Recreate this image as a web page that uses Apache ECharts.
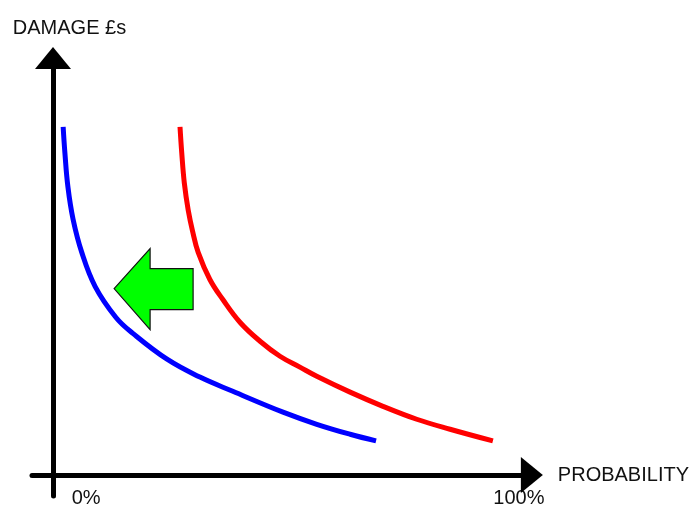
<!DOCTYPE html>
<html>
<head>
<meta charset="utf-8">
<script src="https://cdn.jsdelivr.net/npm/echarts@6/dist/echarts.min.js"></script>
<style>
  html, body { margin: 0; padding: 0; background: #fff; }
  #chart { width: 692px; height: 508px; }
</style>
</head>
<body>
<div id="chart"></div>
<script>
// curve points: [probability %, damage]
var beforeCurve = [
  [21.7, 83.5], [22.1, 77.3], [22.7, 70.0], [23.6, 63.5], [24.6, 58.5],
  [25.9, 53.4], [28.6, 46.9], [31.6, 42.1], [35.6, 36.6], [40.2, 32.1],
  [44.8, 28.5], [49.4, 25.9], [53.3, 23.7], [61.0, 19.9], [68.6, 16.5],
  [76.4, 13.4], [84.1, 11.0], [94.0, 8.2]
];
var afterCurve = [
  [-5.3, 83.5], [-4.9, 77.3], [-4.2, 69.1], [-3.0, 61.3], [-1.0, 53.4],
  [2.1, 45.2], [6.9, 37.8], [10.8, 34.0], [18.7, 27.8], [26.3, 23.5],
  [33.9, 20.1], [45.5, 15.1], [53.3, 12.2], [61.0, 9.8], [67.0, 8.2]
];
var xTickValues = [0, 100];
var xName = 'PROBABILITY';
var yName = 'DAMAGE £s';

// where the green "shift" arrow sits (data coords)
var shiftArrowAt = [15.6, 44.6];

var chart = echarts.init(document.getElementById('chart'));

var font = 'Liberation Sans, Arial, sans-serif';
var axisLine = {
  show: true,
  onZero: false,
  symbol: ['none', 'triangle'],
  symbolSize: [36, 22],
  lineStyle: { color: '#000', width: 5 }
};

var option = {
  animation: false,
  grid: { left: 32, right: 160, top: 58, bottom: 11 },
  xAxis: {
    type: 'value',
    min: -12.5,
    max: 103,
    offset: -21,
    axisLine: axisLine,
    axisTick: { show: false },
    splitLine: { show: false },
    axisLabel: {
      customValues: xTickValues,
      formatter: function (v) { return v + '%'; },
      margin: 13,
      color: '#111',
      fontSize: 20,
      fontFamily: font
    },
    name: xName,
    nameLocation: 'end',
    nameGap: 26,
    nameTextStyle: { color: '#111', fontSize: 20, fontFamily: font, padding: [0, 0, 20, 0] }
  },
  yAxis: {
    type: 'value',
    min: -5,
    max: 100,
    offset: -21,
    axisLine: axisLine,
    axisTick: { show: false },
    splitLine: { show: false },
    axisLabel: { show: false },
    name: yName,
    nameLocation: 'end',
    nameGap: 20,
    nameTextStyle: { color: '#111', fontSize: 20, fontFamily: font, align: 'center', padding: [0, 0, 0, 33] }
  },
  series: [
    {
      name: 'before',
      type: 'line',
      smooth: 0.4,
      showSymbol: false,
      data: beforeCurve,
      lineStyle: { color: '#ff0000', width: 5 },
      itemStyle: { color: '#ff0000' }
    },
    {
      name: 'after',
      type: 'line',
      smooth: 0.4,
      showSymbol: false,
      data: afterCurve,
      lineStyle: { color: '#0000ff', width: 5 },
      itemStyle: { color: '#0000ff' }
    },
    {
      name: 'shift',
      type: 'scatter',
      data: [shiftArrowAt],
      symbol: 'path://M0,40 L36,0 L36,20 L79,20 L79,61 L36,61 L36,81 Z',
      symbolSize: [79, 81],
      itemStyle: { color: '#00ff00', opacity: 1, borderColor: '#111', borderWidth: 1.2 },
      z: 5
    }
  ]
};

chart.setOption(option);
</script>
</body>
</html>
